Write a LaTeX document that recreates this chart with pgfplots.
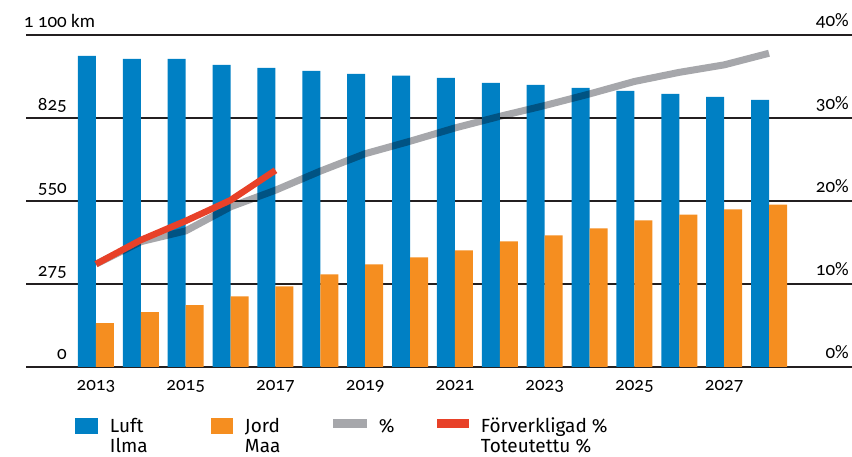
\documentclass[border=0pt]{standalone}
\usepackage{pgfplots}
\pgfplotsset{compat=1.18}
\usepackage{fontspec}
\setmainfont{Fira Sans}
\newfontfamily\tickfont{Carlito}[Numbers=OldStyle]

\definecolor{luft}{RGB}{0,128,196}
\definecolor{jord}{RGB}{245,142,32}
\definecolor{pctgrey}{RGB}{166,167,171}
\definecolor{forv}{RGB}{232,65,40}
\definecolor{gridk}{RGB}{35,31,32}

\newcommand\ticksize{\tickfont\fontsize{19}{22}\selectfont}
\newcommand\legsize{\fontsize{19}{19.5}\selectfont}

\begin{document}
\begin{tikzpicture}
\useasboundingbox (-26pt,-90pt) rectangle (826pt,367pt);

% km axis: bars
\begin{axis}[
    at={(0,0)}, anchor=south west,
    scale only axis, width=826pt, height=332pt,
    xmin=2011.44, xmax=2029.85,
    ymin=0, ymax=1100,
    axis line style={draw=none},
    major tick length=0pt,
    ymajorgrids, grid style={line width=2pt, color=gridk},
    ytick={0,275,550,825,1100},
    yticklabels={0,275,550,825,{1 100\rlap{~km}}},
    yticklabel style={anchor=base east, inner sep=0pt, xshift=41pt, yshift=7pt, font=\ticksize},
    xtick={2013,2015,...,2027},
    xticklabels={2013,2015,2017,2019,2021,2023,2025,2027},
    xticklabel style={anchor=base, inner sep=0pt, yshift=-24pt, font=\ticksize},
    ybar=0pt, bar width=18pt,
    clip=false,
]
\addplot[fill=luft, draw=none] coordinates {
    (2013,1031)(2014,1021)(2015,1021)(2016,1001)(2017,991)(2018,981)
    (2019,971)(2020,965)(2021,958)(2022,941)(2023,935)(2024,925)
    (2025,915)(2026,905)(2027,895)(2028,885)};
\addplot[fill=jord, draw=none] coordinates {
    (2013,145)(2014,182)(2015,205)(2016,234)(2017,267)(2018,307)
    (2019,340)(2020,363)(2021,386)(2022,416)(2023,436)(2024,459)
    (2025,486)(2026,505)(2027,522)(2028,538)};
\end{axis}

% percent axis: lines + legend
\begin{axis}[
    at={(0,0)}, anchor=south west,
    scale only axis, width=826pt, height=332pt,
    xmin=2011.44, xmax=2029.85,
    ymin=0, ymax=40,
    axis y line*=right, axis x line=none,
    axis line style={draw=none},
    major tick length=0pt,
    ytick={0,10,20,30,40},
    yticklabels={0\%,10\%,20\%,30\%,40\%},
    yticklabel style={anchor=base east, inner sep=0pt, xshift=-3pt, yshift=8pt, font=\ticksize},
    clip=false,
    legend columns=4,
    legend style={at={(axis description cs:0.0593,-0.1536)}, anchor=north west,
        draw=none, fill=none, inner sep=0pt, outer sep=0pt,
        cells={anchor=base west}, nodes={inner sep=0pt}, font=\legsize,
        /tikz/every odd column/.style={column sep=12pt},
        /tikz/every even column/.style={column sep=0pt}},
]
\addlegendimage{legend image code/.code={\path[fill=luft, draw=none] (0pt,-1pt) rectangle (23pt,15pt);}}
\addlegendentry{\parbox[t]{101pt}{\raggedright Luft\\Ilma}}
\addlegendimage{legend image code/.code={\path[fill=jord, draw=none] (0pt,-1pt) rectangle (22pt,15pt);}}
\addlegendentry{\parbox[t]{88pt}{\raggedright Jord\\Maa}}

\addplot[color=pctgrey, line width=7pt, line join=round, blend mode=multiply,
    legend image code/.code={\path[fill=pctgrey, draw=none, line width=0pt, blend mode=normal] (0pt,5pt) rectangle (34pt,14pt);}]
    coordinates {
    (2013,12.4)(2014,15.1)(2015,16.4)(2016,19.3)(2017,21.3)(2018,23.6)
    (2019,25.7)(2020,27.2)(2021,28.8)(2022,30.2)(2023,31.5)(2024,32.9)
    (2025,34.4)(2026,35.5)(2027,36.4)(2028,37.8)};
\addlegendentry{\parbox[t]{58pt}{\%}}

\addplot[color=forv, line width=6.5pt, line join=round,
    legend image code/.code={\path[fill=forv, draw=none, line width=0pt] (0pt,5pt) rectangle (32pt,14pt);}]
    coordinates {
    (2013,12.4)(2014,15.3)(2015,17.6)(2016,20.1)(2017,23.7)};
\addlegendentry{\parbox[t]{150pt}{\raggedright Förverkligad \%\\Toteutettu \%}}
\end{axis}
\end{tikzpicture}
\end{document}
